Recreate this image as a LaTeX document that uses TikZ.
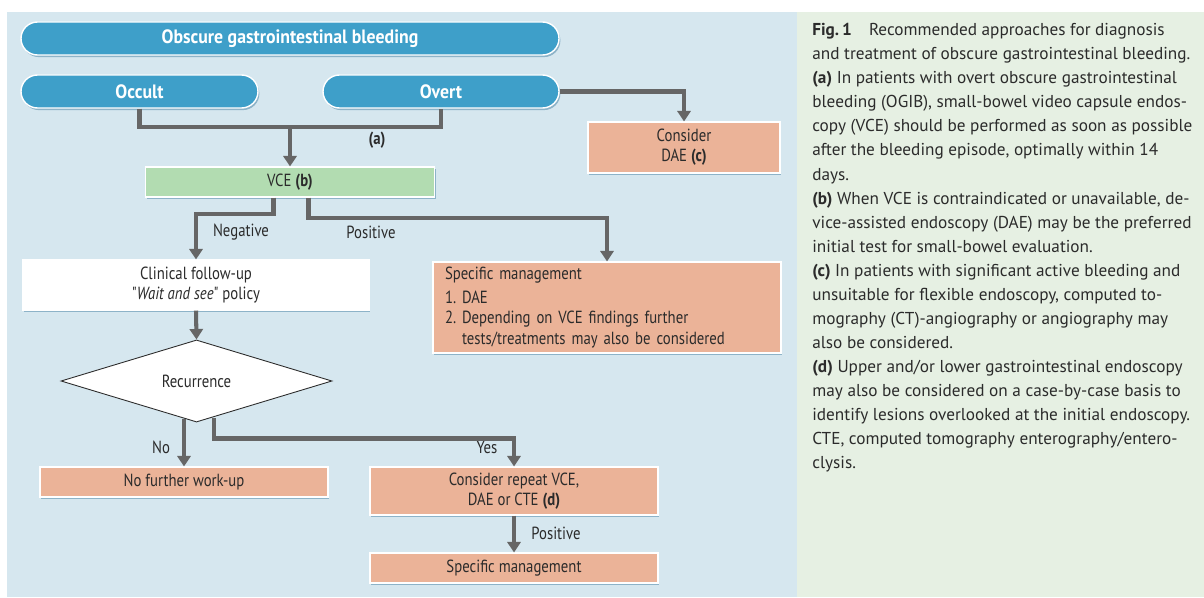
\documentclass[tikz,border=0pt]{standalone}
\usepackage{fontspec}
\setmainfont{PT Sans}
\newfontfamily\condfont[FakeStretch=0.84]{PT Sans}
\newfontfamily\pillfont[FakeStretch=0.92]{PT Sans}
\usetikzlibrary{arrows.meta,shapes.geometric,shadows}
\definecolor{panelblue}{HTML}{D6E7EF}
\definecolor{panelgreen}{HTML}{E6F0E3}
\definecolor{pillblue}{HTML}{3E9FC9}
\definecolor{vcegreen}{HTML}{B2DCB1}
\definecolor{boxorange}{HTML}{EBB398}
\definecolor{flowgrey}{HTML}{666666}
\definecolor{shadowblue}{HTML}{8DB3C8}
\definecolor{inktext}{HTML}{2B2B2B}
\begin{document}
\begin{tikzpicture}[font=\condfont\fontsize{10}{11.5}\selectfont, text=inktext,
    pill/.style={rounded corners=0.33cm, fill=pillblue, draw=white, line width=0.8pt,
        text=white, font=\pillfont\fontsize{11}{12}\selectfont\bfseries, minimum height=0.66cm,
        drop shadow={fill=shadowblue, opacity=1, shadow xshift=0.8pt, shadow yshift=-1.2pt}},
    box/.style={fill=boxorange, draw=white, line width=0.6pt, align=center, inner sep=0pt,
        drop shadow={fill=shadowblue, opacity=1, shadow xshift=0.8pt, shadow yshift=-1.2pt}},
    line/.style={draw=flowgrey, line width=2.3pt},
    arrow/.style={line, -{Triangle[width=7.5pt,length=6pt]}}]
    \useasboundingbox (0,0) rectangle (24.08,11.94);
    \fill[white] (0,0) rectangle (24.08,11.94);
    \fill[panelblue] (0.14,0) rectangle (15.94,11.7);
    \fill[panelgreen] (15.94,0) rectangle (24.08,11.7);
    \node[pill, minimum width=10.76cm] (Obscure) at (5.8, 11.17) {Obscure gastrointestinal bleeding};
    \node[pill, minimum width=4.74cm] (Occult) at (2.79, 10.11) {Occult};
    \node[pill, minimum width=4.72cm] (Overt) at (8.82, 10.11) {Overt};
    \coordinate (ajoin) at (5.8, 9.4);
    \node[box, fill=vcegreen, minimum width=5.78cm, minimum height=0.6cm] (VCE) at (5.8, 8.3) {VCE \textbf{(b)}};
    \node[box, minimum width=3.84cm, minimum height=1.02cm] (ConsiderDAE) at (13.68, 8.99) {Consider\\DAE \textbf{(c)}};
    \node[box, fill=white, minimum width=6.92cm, minimum height=1.0cm] (Clinical) at (3.92, 6.24) {Clinical follow-up\\"\textit{Wait and see}" policy};
    \node[box, minimum width=6.96cm, minimum height=1.82cm, align=left, text width=6.48cm] (Specific) at (12.14, 5.79)
        {Specific management\\[2pt]1.\ DAE\\2.\ Depending on VCE findings further\\\phantom{2.\ }tests/treatments may also be considered};
    \node[diamond, fill=white, draw=inktext, line width=0.5pt, inner sep=0pt, minimum width=5.42cm, minimum height=1.36cm] (Recurrence) at (3.93, 4.32) {Recurrence};
    \node[box, minimum width=5.76cm, minimum height=0.6cm] (NoFurther) at (3.68, 2.3) {No further work-up};
    \node[box, minimum width=5.76cm, minimum height=0.96cm] (Repeat) at (10.28, 2.12) {Consider repeat VCE,\\DAE or CTE \textbf{(d)}};
    \node[box, minimum width=5.76cm, minimum height=0.6cm] (SpecBottom) at (10.28, 0.58) {Specific management};
    \node (alabel) at (7.54, 9.14) {\textbf{(a)}};
    \node (neglabel) at (4.82, 7.3) {Negative};
    \node (poslabel) at (7.42, 7.3) {Positive};
    \node (nolabel) at (3.22, 3.0) {No};
    \node (yeslabel) at (9.74, 3.0) {Yes};
    \node (pos2label) at (11.12, 1.28) {Positive};
    \draw[line] (Occult.south) |- (ajoin) -| (Overt.south);
    \draw[arrow] (ajoin) -- (VCE.north);
    \draw[arrow] (Overt.east) -| (ConsiderDAE.north);
    \draw[arrow] ([xshift=-0.33cm]VCE.south) -- ++(0,-0.32) -| (Clinical.north);
    \draw[arrow] ([xshift=0.37cm]VCE.south) -- ++(0,-0.4) -| (Specific.north);
    \draw[arrow] (Clinical.south) -- (Recurrence.north);
    \draw[arrow] ([xshift=-0.25cm,yshift=0.06cm]Recurrence.south) -- (NoFurther.north);
    \draw[arrow] ([xshift=0.35cm,yshift=0.08cm]Recurrence.south) -- ++(0,-0.4) -| (Repeat.north);
    \draw[arrow] (Repeat.south) -- (SpecBottom.north);
    \node[anchor=north west, align=left, inner sep=0pt, font=\fontsize{9.8}{13.7}\selectfont] (caption) at (16.24, 11.48)
        {\textbf{Fig.\,1}\quad Recommended approaches for diagnosis\\
        and treatment of obscure gastrointestinal bleeding.\\
        \textbf{(a)} In patients with overt obscure gastrointestinal\\
        bleeding (OGIB), small-bowel video capsule endos-\\
        copy (VCE) should be performed as soon as possible\\
        after the bleeding episode, optimally within 14\\
        days.\\
        \textbf{(b)} When VCE is contraindicated or unavailable, de-\\
        vice-assisted endoscopy (DAE) may be the preferred\\
        initial test for small-bowel evaluation.\\
        \textbf{(c)} In patients with significant active bleeding and\\
        unsuitable for flexible endoscopy, computed to-\\
        mography (CT)-angiography or angiography may\\
        also be considered.\\
        \textbf{(d)} Upper and/or lower gastrointestinal endoscopy\\
        may also be considered on a case-by-case basis to\\
        identify lesions overlooked at the initial endoscopy.\\
        CTE, computed tomography enterography/entero-\\
        clysis.};
\end{tikzpicture}
\end{document}
